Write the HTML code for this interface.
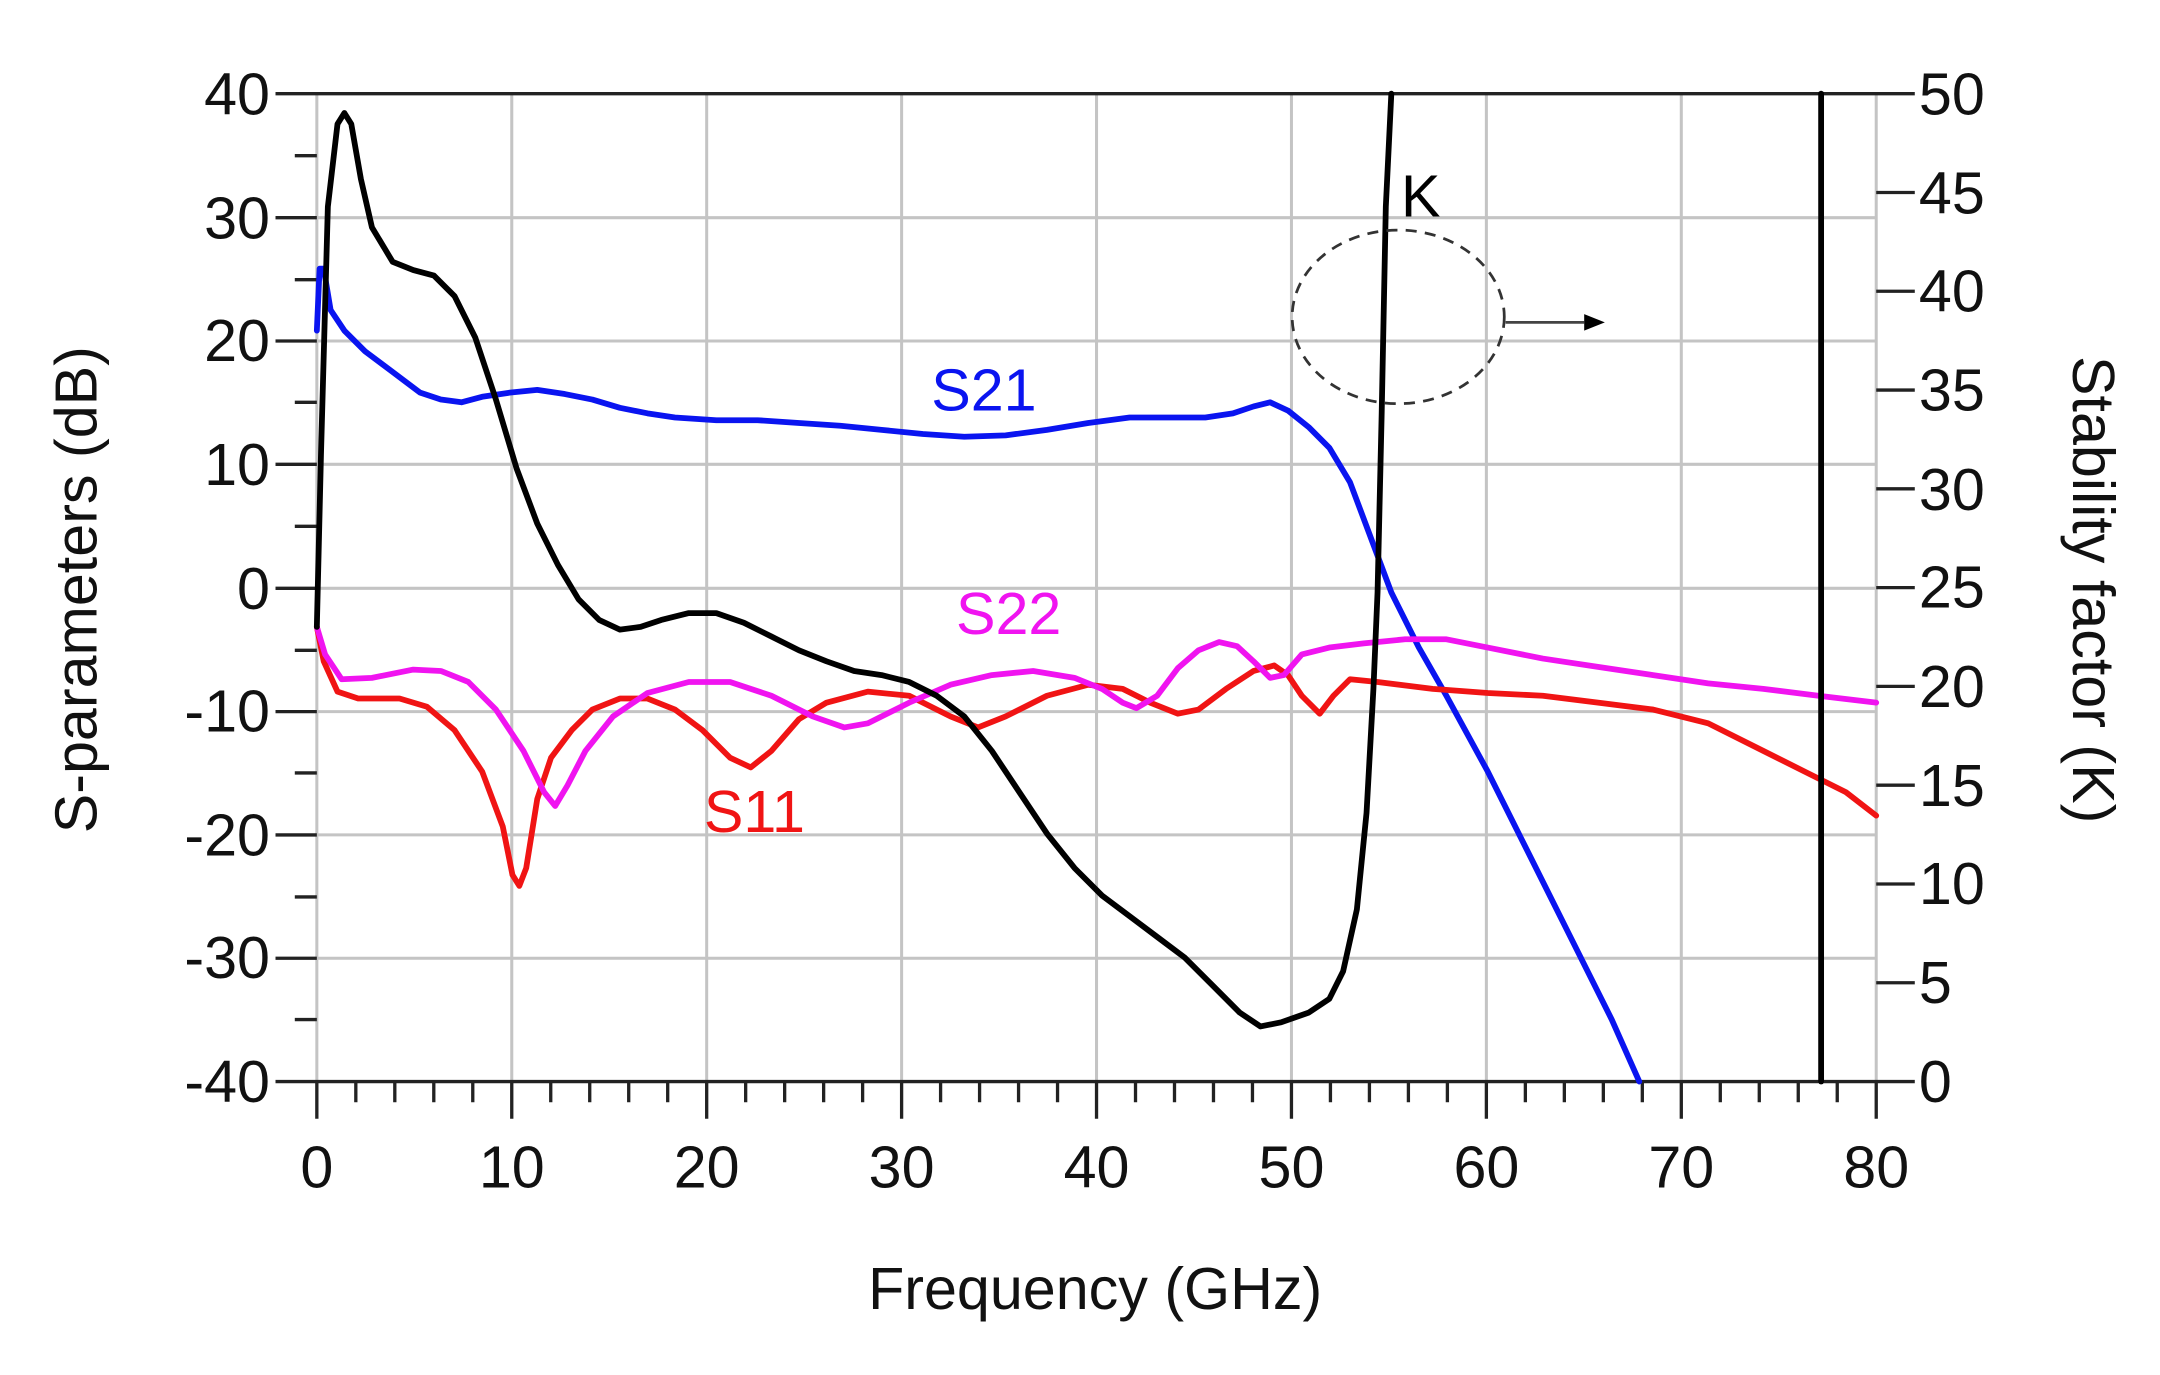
<!DOCTYPE html>
<html><head><meta charset="utf-8"><style>
html,body{margin:0;padding:0;background:#fff;}
svg{display:block;}
text{font-family:"Liberation Sans",Arial,sans-serif;}
</style></head><body>
<svg width="2160" height="1375" viewBox="0 0 1568 998" preserveAspectRatio="none" xmlns="http://www.w3.org/2000/svg">
<rect width="1568" height="998" fill="#fff"/>
<g stroke="#c4c4c4" stroke-width="2.2">
<line x1="371.5" y1="68" x2="371.5" y2="785"/><line x1="513" y1="68" x2="513" y2="785"/><line x1="654.5" y1="68" x2="654.5" y2="785"/><line x1="796" y1="68" x2="796" y2="785"/><line x1="937.5" y1="68" x2="937.5" y2="785"/><line x1="1079" y1="68" x2="1079" y2="785"/><line x1="1220.5" y1="68" x2="1220.5" y2="785"/>
<line x1="230" y1="158" x2="1362" y2="158"/><line x1="230" y1="247.5" x2="1362" y2="247.5"/><line x1="230" y1="337" x2="1362" y2="337"/><line x1="230" y1="427" x2="1362" y2="427"/><line x1="230" y1="516.5" x2="1362" y2="516.5"/><line x1="230" y1="606" x2="1362" y2="606"/><line x1="230" y1="695.5" x2="1362" y2="695.5"/>
<line x1="230" y1="68" x2="230" y2="785"/><line x1="1362" y1="68" x2="1362" y2="785"/>
</g>
<g stroke="#222" stroke-width="2.4">
<line x1="200" y1="68" x2="1390" y2="68"/><line x1="200" y1="785" x2="1390" y2="785"/>
<line x1="200" y1="158" x2="230" y2="158"/><line x1="200" y1="247.5" x2="230" y2="247.5"/><line x1="200" y1="337" x2="230" y2="337"/><line x1="200" y1="427" x2="230" y2="427"/><line x1="200" y1="516.5" x2="230" y2="516.5"/><line x1="200" y1="606" x2="230" y2="606"/><line x1="200" y1="695.5" x2="230" y2="695.5"/>
<line x1="214" y1="113" x2="230" y2="113"/><line x1="214" y1="203" x2="230" y2="203"/><line x1="214" y1="292" x2="230" y2="292"/><line x1="214" y1="382" x2="230" y2="382"/><line x1="214" y1="472" x2="230" y2="472"/><line x1="214" y1="561" x2="230" y2="561"/><line x1="214" y1="651" x2="230" y2="651"/><line x1="214" y1="740" x2="230" y2="740"/>
<line x1="1362" y1="139.7" x2="1390" y2="139.7"/><line x1="1362" y1="211.4" x2="1390" y2="211.4"/><line x1="1362" y1="283.1" x2="1390" y2="283.1"/><line x1="1362" y1="354.8" x2="1390" y2="354.8"/><line x1="1362" y1="426.5" x2="1390" y2="426.5"/><line x1="1362" y1="498.2" x2="1390" y2="498.2"/><line x1="1362" y1="569.9" x2="1390" y2="569.9"/><line x1="1362" y1="641.6" x2="1390" y2="641.6"/><line x1="1362" y1="713.3" x2="1390" y2="713.3"/>
<path d="M230 785V812M258.3 785V800M286.6 785V800M314.9 785V800M343.2 785V800M371.5 785V812M399.8 785V800M428.1 785V800M456.4 785V800M484.7 785V800M513 785V812M541.3 785V800M569.6 785V800M597.9 785V800M626.2 785V800M654.5 785V812M682.8 785V800M711.1 785V800M739.4 785V800M767.7 785V800M796 785V812M824.3 785V800M852.6 785V800M880.9 785V800M909.2 785V800M937.5 785V812M965.8 785V800M994.1 785V800M1022.4 785V800M1050.7 785V800M1079 785V812M1107.3 785V800M1135.6 785V800M1163.9 785V800M1192.2 785V800M1220.5 785V812M1248.8 785V800M1277.1 785V800M1305.4 785V800M1333.7 785V800M1362 785V812"/>
</g>
<g fill="none" stroke-width="4.2" stroke-linejoin="round" stroke-linecap="round">
<path stroke="#0a14f0" d="M230 240L232 195L235 195L240 225L250 240L265 255L285 270L305 285L320 290L335 292L350 288L370 285L390 283L410 286L430 290L450 296L470 300L490 303L520 305L550 305L580 307L610 309L640 312L670 315L700 317L730 316L760 312L790 307L820 303L850 303L875 303L895 300L910 295L922 292L935 298L950 310L965 325L980 350L995 390L1010 430L1030 470L1050 505L1080 560L1110 620L1140 680L1170 740L1190 785"/>
<path stroke="#f01414" d="M230 455L235 480L245 502L260 507L290 507L310 513L330 530L350 560L365 600L372 635L377 643L382 630L390 580L400 550L415 530L430 515L450 507L470 507L490 515L510 530L530 550L545 557L560 545L580 522L600 510L630 502L660 505L690 520L710 528L730 520L760 505L790 497L815 500L835 510L855 518L870 515L890 500L910 487L925 483L935 490L945 505L958 518L968 505L980 493L1000 495L1040 500L1080 503L1120 505L1160 510L1200 515L1240 525L1280 545L1310 560L1340 575L1362 592"/>
<path stroke="#f014f0" d="M230 455L236 475L248 493L270 492L300 486L320 487L340 495L360 515L380 545L395 575L403 585L412 570L425 545L445 520L470 503L500 495L530 495L560 505L590 520L613 528L630 525L660 510L690 497L720 490L750 487L780 492L800 500L815 510L825 514L840 505L855 485L870 472L885 466L898 469L910 480L922 492L932 490L945 475L965 470L990 467L1020 464L1050 464L1080 470L1120 478L1160 484L1200 490L1240 496L1280 500L1320 505L1362 510"/>
<path stroke="#000" d="M230 455L233 330L238 150L245 90L250 82L255 90L262 130L270 165L285 190L300 196L315 200L330 215L345 245L360 290L375 340L390 380L405 410L420 435L435 450L450 457L465 455L480 450L500 445L520 445L540 452L560 462L580 472L600 480L620 487L640 490L660 495L680 505L700 520L720 545L740 575L760 605L780 630L800 650L820 665L840 680L860 695L880 715L900 735L915 745L930 742L950 735L965 725L975 705L985 660L992 590L997 500L1000 430L1003 300L1006 150L1010 68"/>
<line stroke="#000" x1="1322" y1="68" x2="1322" y2="785"/>
</g>
<ellipse cx="1015" cy="230" rx="77" ry="63" fill="none" stroke="#333" stroke-width="2" stroke-dasharray="8,6"/>
<line x1="1093" y1="234" x2="1150" y2="234" stroke="#444" stroke-width="2"/>
<polygon points="1150,228 1165,234 1150,240" fill="#000"/>
<g font-size="43" fill="#111" text-anchor="end">
<text x="196" y="83">40</text><text x="196" y="173">30</text><text x="196" y="262">20</text><text x="196" y="352">10</text><text x="196" y="442">0</text><text x="196" y="531">-10</text><text x="196" y="621">-20</text><text x="196" y="710">-30</text><text x="196" y="800">-40</text>
</g>
<g font-size="43" fill="#111">
<text x="1393" y="83">50</text><text x="1393" y="155">45</text><text x="1393" y="226">40</text><text x="1393" y="298">35</text><text x="1393" y="370">30</text><text x="1393" y="441">25</text><text x="1393" y="513">20</text><text x="1393" y="585">15</text><text x="1393" y="656">10</text><text x="1393" y="728">5</text><text x="1393" y="800">0</text>
</g>
<g font-size="43" fill="#111" text-anchor="middle">
<text x="230" y="862">0</text><text x="371.5" y="862">10</text><text x="513" y="862">20</text><text x="654.5" y="862">30</text><text x="796" y="862">40</text><text x="937.5" y="862">50</text><text x="1079" y="862">60</text><text x="1220.5" y="862">70</text><text x="1362" y="862">80</text>
<text x="795" y="950">Frequency (GHz)</text>
<text transform="translate(70,428) rotate(-90)">S-parameters (dB)</text>
<text transform="translate(1505,428) rotate(90)">Stability factor (K)</text>
</g>
<text x="676" y="298" font-size="43" fill="#0a14f0">S21</text>
<text x="694" y="460" font-size="43" fill="#f014f0">S22</text>
<text x="511" y="604" font-size="43" fill="#f01414">S11</text>
<text x="1017" y="157" font-size="43" fill="#000">K</text>
</svg>
</body></html>
